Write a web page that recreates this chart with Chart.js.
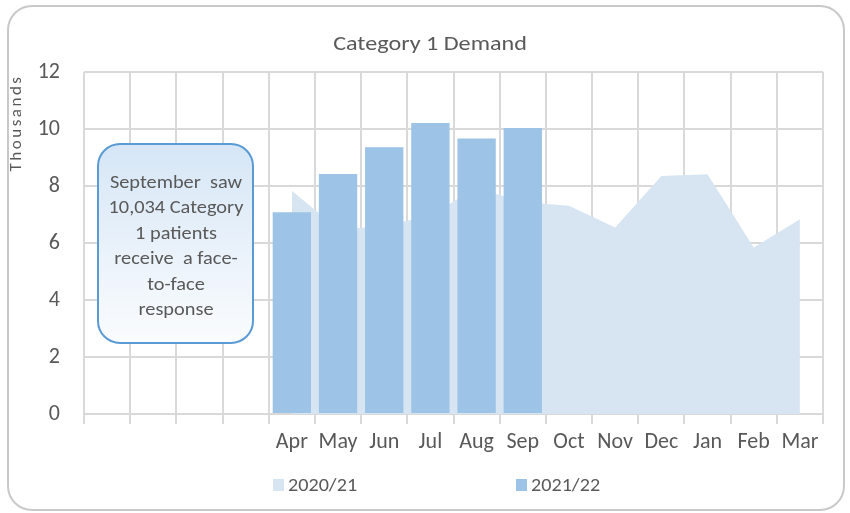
<!DOCTYPE html>
<html>
<head>
<meta charset="utf-8">
<script src="https://cdn.jsdelivr.net/npm/chart.js@4.4.0/dist/chart.umd.min.js"></script>
<style>
html, body { margin: 0; padding: 0; background: #fff; }
#wrap { width: 850px; height: 513px; }
</style>
</head>
<body>
<div id="wrap"><canvas id="chart-area" width="850" height="513"></canvas></div>
<script>
// months, with four empty slots in front the way the sheet had them
var months = ['', '', '', '', 'Apr', 'May', 'Jun', 'Jul', 'Aug', 'Sep', 'Oct', 'Nov', 'Dec', 'Jan', 'Feb', 'Mar'];
// thousands of incidents
var demand2021 = [null, null, null, null, 7.83, 6.49, 6.58, 6.98, 7.93, 7.44, 7.31, 6.54, 8.35, 8.41, 5.84, 6.83];
var demand2122 = [null, null, null, null, 7.08, 8.42, 9.36, 10.21, 9.67, 10.034, null, null, null, null, null, null];
var yTicks = [0, 2, 4, 6, 8, 10, 12];
var noteLines = ['September  saw', '10,034 Category', '1 patients', 'receive  a face-', 'to-face', 'response'];

var FONT = 'Carlito, "Liberation Sans Narrow", "Liberation Sans", sans-serif';
var TXT = '#595959';
var GRID = '#d9d9d9';

function roundRect(ctx, x, y, w, h, r) {
    ctx.beginPath();
    ctx.moveTo(x + r, y);
    ctx.lineTo(x + w - r, y);
    ctx.arcTo(x + w, y, x + w, y + r, r);
    ctx.lineTo(x + w, y + h - r);
    ctx.arcTo(x + w, y + h, x + w - r, y + h, r);
    ctx.lineTo(x + r, y + h);
    ctx.arcTo(x, y + h, x, y + h - r, r);
    ctx.lineTo(x, y + r);
    ctx.arcTo(x, y, x + r, y, r);
    ctx.closePath();
}

// excel's text comes out a bit wide, so stretch it sideways
function wideText(ctx, s, x, y, sx) {
    ctx.save();
    ctx.translate(x, y);
    ctx.scale(sx, 1);
    ctx.fillText(s, 0, 0);
    ctx.restore();
}

var decor = {
    id: 'decor',
    beforeDraw: function(chart) {
        var ctx = chart.ctx;
        ctx.save();
        ctx.fillStyle = '#fff';
        ctx.fillRect(0, 0, chart.width, chart.height);
        roundRect(ctx, 8, 6, 836, 504, 24);
        ctx.strokeStyle = '#c9c9c9';
        ctx.lineWidth = 2;
        ctx.stroke();
        ctx.restore();
    },
    afterDraw: function(chart) {
        var ctx = chart.ctx;
        ctx.save();
        ctx.fillStyle = TXT;
        ctx.textAlign = 'center';
        ctx.textBaseline = 'middle';

        ctx.font = '21px ' + FONT;
        wideText(ctx, 'Category 1 Demand', 430, 45, 1.15);

        // display units label
        ctx.save();
        ctx.translate(17, 123);
        ctx.rotate(-Math.PI / 2);
        ctx.font = '17px ' + FONT;
        if ('letterSpacing' in ctx) ctx.letterSpacing = '2.5px';
        ctx.fillText('Thousands', 0, 0);
        ctx.restore();

        // note box
        var g = ctx.createLinearGradient(0, 144, 0, 343);
        g.addColorStop(0, '#d6e6f6');
        g.addColorStop(1, '#fafcfe');
        roundRect(ctx, 98, 144, 155, 199, 22);
        ctx.fillStyle = g;
        ctx.fill();
        ctx.strokeStyle = '#5b9bd5';
        ctx.lineWidth = 2;
        ctx.stroke();
        ctx.fillStyle = TXT;
        ctx.font = '18px ' + FONT;
        for (var i = 0; i < noteLines.length; i++) {
            wideText(ctx, noteLines[i], 176, 183 + i * 25.5, 1.13);
        }

        // legend, 2020/21 first
        var items = [chart.data.datasets[1], chart.data.datasets[0]];
        var lx = [273, 516];
        ctx.textAlign = 'left';
        ctx.font = '18px ' + FONT;
        for (var k = 0; k < items.length; k++) {
            ctx.fillStyle = items[k].backgroundColor;
            ctx.fillRect(lx[k], 479, 11, 12);
            ctx.fillStyle = TXT;
            wideText(ctx, items[k].label, lx[k] + 15, 486, 1.12);
        }
        ctx.restore();
    }
};

var config = {
    type: 'bar',
    data: {
        labels: months,
        datasets: [{
            type: 'bar',
            label: '2021/22',
            data: demand2122,
            backgroundColor: '#9dc3e6',
            barPercentage: 0.83,
            categoryPercentage: 1,
            order: 1
        }, {
            type: 'line',
            label: '2020/21',
            data: demand2021,
            backgroundColor: '#d7e5f3',
            borderWidth: 0,
            pointRadius: 0,
            fill: 'origin',
            tension: 0,
            order: 2
        }]
    },
    options: {
        responsive: false,
        animation: false,
        devicePixelRatio: 1,
        layout: { padding: { left: 0, right: 27, top: 72, bottom: 0 } },
        plugins: {
            legend: { display: false },
            title: { display: false },
            tooltip: { enabled: false }
        },
        scales: {
            x: {
                offset: true,
                border: { display: false },
                grid: { color: GRID, lineWidth: 2, offset: true, drawTicks: true, tickLength: 10, tickColor: GRID },
                ticks: { color: TXT, font: { family: FONT, size: 22 }, padding: 5, maxRotation: 0, autoSkip: false },
                afterFit: function(scale) { scale.height = 99; }
            },
            y: {
                min: 0,
                max: 12,
                border: { display: false },
                grid: { color: GRID, lineWidth: 2, drawTicks: false },
                ticks: { color: TXT, font: { family: FONT, size: 22 }, padding: 24, stepSize: 2 },
                afterBuildTicks: function(scale) { scale.ticks = yTicks.map(function(v) { return { value: v }; }); },
                afterFit: function(scale) { scale.width = 84; }
            }
        }
    },
    plugins: [decor]
};

window.onload = function() {
    var ctx = document.getElementById('chart-area').getContext('2d');
    window.demandChart = new Chart(ctx, config);
};
</script>
</body>
</html>
